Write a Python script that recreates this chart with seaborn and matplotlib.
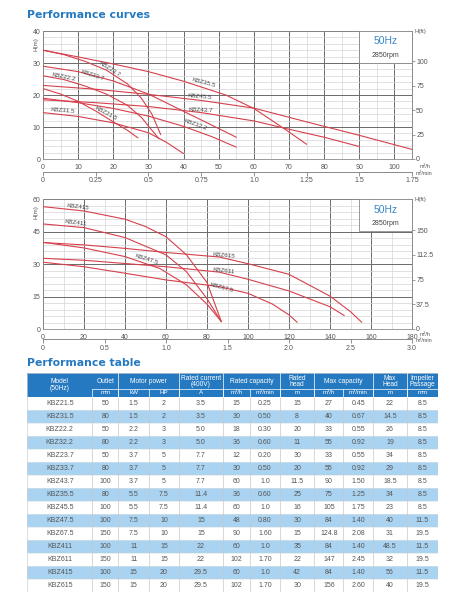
import numpy as np
import pandas as pd
import matplotlib
matplotlib.use("Agg")
import matplotlib.pyplot as plt
from matplotlib.patches import Rectangle
import seaborn as sns

# ---- curve data, top chart (Q in m3/h, H in m) ----
top_curves = {
    "KBZ21.5": ([0, 5, 10, 15, 20, 24, 27], [22, 20.3, 18, 15, 11.6, 9, 6.6]),
    "KBZ31.5": ([0, 10, 20, 30, 35, 40], [14.5, 13.3, 11.3, 8.2, 5.3, 1.7]),
    "KBZ22.2": ([0, 6, 12, 18, 24, 28, 33], [26, 24.8, 22.8, 20.3, 16.8, 13, 6.3]),
    "KBZ32.2": ([0, 10, 20, 30, 40, 48, 55], [19, 17.6, 15.8, 13.4, 10.2, 7, 3.7]),
    "KBZ23.7": ([0, 6, 12, 18, 24, 28, 31, 33.5], [34, 32.6, 30.5, 27.8, 23.5, 19, 14, 7.6]),
    "KBZ33.7": ([0, 10, 20, 30, 40, 48, 55], [29, 27.3, 24.4, 20.3, 14.9, 10.6, 6.8]),
    "KBZ43.7": ([0, 15, 30, 45, 60, 70, 80, 90], [18.5, 17.6, 16.4, 14.5, 11.9, 9.3, 6.8, 3.9]),
    "KBZ35.5": ([0, 10, 20, 30, 40, 52, 60, 69, 75], [34, 31.9, 29.7, 27.3, 24.3, 20, 15.8, 9.2, 4.6]),
    "KBZ45.5": ([0, 15, 30, 45, 60, 75, 90, 105], [23, 21.8, 20.2, 18.3, 15.9, 11.6, 7.4, 3]),
}
top_labels = [
    ("KBZ23.7", 19.1, 28.1, -32), ("KBZ33.7", 14.2, 26.3, -18),
    ("KBZ22.2", 6.0, 25.6, -12), ("KBZ31.5", 5.7, 15.0, -5),
    ("KBZ21.5", 17.9, 14.1, -28), ("KBZ35.5", 45.8, 23.8, -15),
    ("KBZ45.5", 44.7, 19.4, -5), ("KBZ43.7", 45.0, 15.3, -3),
    ("KBZ32.2", 43.5, 10.6, -20),
]

# ---- curve data, bottom chart ----
bottom_curves = {
    "KBZ47.5": ([0, 20, 40, 57, 70, 80, 87], [40.1, 37.5, 33.5, 28, 20.4, 11.5, 3.4]),
    "KBZ411": ([0, 20, 40, 60, 70, 80, 87], [48.6, 46.9, 42.3, 34.3, 26.5, 14, 3.4]),
    "KBZ415": ([0, 20, 40, 50, 60, 70, 80, 87], [56.6, 54.6, 50.8, 47.4, 42.7, 34.3, 21.5, 3.4]),
    "KBZ67.5": ([0, 20, 40, 60, 86, 100, 112, 120, 124], [30.9, 28.8, 25.8, 22.7, 19.6, 16.5, 11.5, 6.5, 3.1]),
    "KBZ611": ([0, 20, 40, 60, 86, 100, 120, 140, 147], [32.7, 31.8, 30.3, 28.8, 26.3, 23, 17.6, 10.3, 6.2]),
    "KBZ615": ([0, 20, 40, 60, 86, 100, 120, 140, 150, 155.5], [40, 38.9, 37.3, 35.4, 33.3, 30.2, 25.3, 15.2, 8, 3.1]),
}
bottom_labels = [
    ("KBZ415", 17.1, 56.5, -7), ("KBZ411", 16.1, 49.0, -7),
    ("KBZ47.5", 50.7, 32.4, -18), ("KBZ615", 88.3, 33.8, -5),
    ("KBZ611", 88.3, 26.9, -7), ("KBZ67.5", 87.3, 19.0, -15),
]

top_min_ticks = [0, 0.25, 0.5, 0.75, 1.0, 1.25, 1.5, 1.75]
top_min_labels = ["0", "0.25", "0.5", "0.75", "1.0", "1.25", "1.5", "1.75"]
bottom_min_ticks = [0, 0.5, 1.0, 1.5, 2.0, 2.5, 3.0]
bottom_min_labels = ["0", "0.5", "1.0", "1.5", "2.0", "2.5", "3.0"]
top_ft_ticks = [0, 25, 50, 75, 100]
bottom_ft_ticks = [0, 37.5, 75, 112.5, 150]

# ---- performance table ----
models = ["KBZ21.5", "KBZ31.5", "KBZ22.2", "KBZ32.2", "KBZ23.7", "KBZ33.7", "KBZ43.7", "KBZ35.5",
          "KBZ45.5", "KBZ47.5", "KBZ67.5", "KBZ411", "KBZ611", "KBZ415", "KBZ615"]
outlet = ["50", "80", "50", "80", "50", "80", "100", "80", "100", "100", "150", "100", "150", "100", "150"]
power_kw = ["1.5", "1.5", "2.2", "2.2", "3.7", "3.7", "3.7", "5.5", "5.5", "7.5", "7.5", "11", "11", "15", "15"]
power_hp = ["2", "2", "3", "3", "5", "5", "5", "7.5", "7.5", "10", "10", "15", "15", "20", "20"]
current = ["3.5", "3.5", "5.0", "5.0", "7.7", "7.7", "7.7", "11.4", "11.4", "15", "15", "22", "22", "29.5", "29.5"]
rated_qh = ["15", "30", "18", "36", "12", "30", "60", "36", "60", "48", "90", "60", "102", "60", "102"]
rated_qm = ["0.25", "0.50", "0.30", "0.60", "0.20", "0.50", "1.0", "0.60", "1.0", "0.80", "1.60", "1.0", "1.70", "1.0", "1.70"]
rated_head = ["15", "8", "20", "11", "30", "20", "11.5", "25", "16", "30", "15", "35", "22", "42", "30"]
max_qh = ["27", "40", "33", "55", "33", "55", "90", "75", "105", "84", "124.8", "84", "147", "84", "156"]
max_qm = ["0.45", "0.67", "0.55", "0.92", "0.55", "0.92", "1.50", "1.25", "1.75", "1.40", "2.08", "1.40", "2.45", "1.40", "2.60"]
max_head = ["22", "14.5", "26", "19", "34", "29", "18.5", "34", "23", "40", "31", "48.5", "32", "56", "40"]
impeller = ["8.5", "8.5", "8.5", "8.5", "8.5", "8.5", "8.5", "8.5", "8.5", "11.5", "19.5", "11.5", "19.5", "11.5", "19.5"]

header_top = [("Model\n(50Hz)", 0, 0), ("Outlet", 1, 1), ("Motor power", 2, 3), ("Rated current\n(400V)", 4, 4),
              ("Rated capacity", 5, 6), ("Rated\nhead", 7, 7), ("Max capacity", 8, 9), ("Max\nHead", 10, 10),
              ("Impeller\nPassage", 11, 11)]
header_units = ["", "mm", "kW", "HP", "A", "m³/h", "m³/min", "m", "m³/h", "m³/min", "m", "mm"]
col_widths = [65, 26, 30.7, 30, 43.7, 27.3, 30, 34.3, 29, 30, 33.4, 31.6]

RED = "#d6404c"
BLUE = "#2479c0"
LIGHT = "#a9d3f1"
TXT = "#555555"

sns.set_style("white")
plt.rcParams["font.family"] = ["Liberation Sans", "DejaVu Sans"]

W, H = 458, 600
fig = plt.figure(figsize=(W / 100, H / 100), dpi=100)


def box(x0, y0, x1, y1):
    return [x0 / W, 1 - y1 / H, (x1 - x0) / W, (y1 - y0) / H]


def draw_chart(ax, curves, labels, xmax, ymax, xstep, ystep, ft_ticks, min_ticks, min_labels,
               sec_loc, unit_y, hm_y):
    rows = []
    for name, (q, h) in curves.items():
        for qi, hi in zip(q, h):
            rows.append({"model": name, "Q": qi, "H": hi})
    df = pd.DataFrame(rows)
    sns.lineplot(data=df, x="Q", y="H", units="model", estimator=None, sort=False,
                 color=RED, lw=0.8, ax=ax, legend=False, zorder=4)
    ax.set_xlim(0, xmax)
    ax.set_ylim(0, ymax)
    ax.set_xlabel("")
    ax.set_ylabel("")
    ax.set_xticks(np.arange(0, xmax + 0.01, xstep))
    ax.set_xticks(np.arange(0, xmax + 0.01, xstep / 2), minor=True)
    ax.set_yticks(np.arange(0, ymax + 0.01, ystep))
    ax.set_yticks(np.arange(0, ymax + 0.01, ystep / 5), minor=True)
    ax.set_xticklabels([f"{v:g}" for v in ax.get_xticks()])
    ax.set_yticklabels([f"{v:g}" for v in ax.get_yticks()])
    ax.grid(which="major", color="#6a6a6a", lw=0.7)
    ax.grid(which="minor", color="#d4d4d4", lw=0.5)
    ax.set_axisbelow(True)
    ax.tick_params(axis="x", which="major", length=2, width=0.5, color="#777", pad=1.5,
                   labelsize=5, labelcolor=TXT)
    ax.tick_params(axis="y", which="major", length=0, pad=2, labelsize=5, labelcolor=TXT)
    ax.tick_params(which="minor", length=0)
    for sp in ax.spines.values():
        sp.set_color("#8a8a8a")
        sp.set_linewidth(0.6)

    sec = ax.secondary_yaxis("right", functions=(lambda m: m * 3.28084, lambda f: f / 3.28084))
    sec.set_yticks(ft_ticks, labels=[f"{v:g}" for v in ft_ticks])
    sec.tick_params(length=2, width=0.5, color="#777", pad=1, labelsize=5, labelcolor=TXT)
    sec.spines["right"].set_color("#8a8a8a")
    sec.spines["right"].set_linewidth(0.6)

    secx = ax.secondary_xaxis(sec_loc, functions=(lambda q: q / 60, lambda m: m * 60))
    secx.set_xticks(min_ticks, labels=min_labels)
    secx.tick_params(length=3, width=0.5, color="#666", pad=1, labelsize=5, labelcolor=TXT)
    secx.spines["bottom"].set_color("#777")
    secx.spines["bottom"].set_linewidth(0.6)

    for name, q, h, rot in labels:
        ax.text(q, h, name, rotation=rot, rotation_mode="anchor", ha="center", va="center",
                fontsize=4.5, color="#444", zorder=5)

    ax.add_patch(Rectangle((0.856, 0.752), 0.144, 0.248, transform=ax.transAxes,
                           fc="white", ec="#8a8a8a", lw=0.6, zorder=3))
    ax.text(0.928, 0.92, "50Hz", transform=ax.transAxes, ha="center", va="center",
            fontsize=7.5, color="#3a86c8", zorder=6)
    ax.text(0.928, 0.81, "2850rpm", transform=ax.transAxes, ha="center", va="center",
            fontsize=5, color="#444", zorder=6)

    ax.text(-0.013, hm_y, "H(m)", transform=ax.transAxes, rotation=90, ha="right", va="center",
            fontsize=4.5, color=TXT)
    ax.text(1.008, 1.0, "H(ft)", transform=ax.transAxes, ha="left", va="center",
            fontsize=4.3, color=TXT)
    ax.text(1.02, unit_y[0], "m³/h", transform=ax.transAxes, ha="left", va="center",
            fontsize=4, color=TXT)
    ax.text(1.01, unit_y[1], "m³/min", transform=ax.transAxes, ha="left", va="center",
            fontsize=4, color=TXT)


# titles
fig.text(27 / W, 1 - 15 / H, "Performance curves", fontsize=7.8, fontweight="bold",
         color=BLUE, family="DejaVu Sans", ha="left", va="center")
fig.text(27 / W, 1 - 363 / H, "Performance table", fontsize=7.8, fontweight="bold",
         color=BLUE, family="DejaVu Sans", ha="left", va="center")

ax1 = fig.add_axes(box(43, 31, 412, 159))
draw_chart(ax1, top_curves, top_labels, 105, 40, 10, 10, top_ft_ticks, top_min_ticks,
           top_min_labels, -0.10, (-0.06, -0.11), 0.9)

ax2 = fig.add_axes(box(43, 199.3, 412, 329))
draw_chart(ax2, bottom_curves, bottom_labels, 180, 60, 20, 15, bottom_ft_ticks, bottom_min_ticks,
           bottom_min_labels, -0.077, (-0.045, -0.085), 0.9)

# table
tab = fig.add_axes(box(27.3, 373, 438.3, 592))
total_w = sum(col_widths)
hdr_h, unit_h, row_h = 16.0, 7.7, 13.0
total_h = hdr_h + unit_h + row_h * len(models)
tab.set_xlim(0, total_w)
tab.set_ylim(total_h, 0)
tab.axis("off")
edges = np.concatenate([[0], np.cumsum(col_widths)])
centers = (edges[:-1] + edges[1:]) / 2

tab.add_patch(Rectangle((0, 0), total_w, hdr_h + unit_h, fc=BLUE, ec="none"))
for label, c0, c1 in header_top:
    x0, x1 = edges[c0], edges[c1 + 1]
    if c0 == 0:
        tab.text((x0 + x1) / 2, (hdr_h + unit_h) / 2, label, ha="center", va="center",
                 fontsize=4.8, color="white", linespacing=0.95)
    else:
        tab.text((x0 + x1) / 2, hdr_h / 2 + 0.5, label, ha="center", va="center",
                 fontsize=4.8, color="white", linespacing=0.95)
        tab.plot([x1, x1], [0, hdr_h + unit_h], color="white", lw=0.5)
tab.plot([edges[1], total_w], [hdr_h, hdr_h], color="white", lw=0.5)
for i, u in enumerate(header_units):
    if u:
        tab.text(centers[i], hdr_h + unit_h / 2, u, ha="center", va="center",
                 fontsize=4.5, color="white")
        tab.plot([edges[i], edges[i]], [hdr_h, hdr_h + unit_h], color="white", lw=0.5)

columns = [models, outlet, power_kw, power_hp, current, rated_qh, rated_qm, rated_head,
           max_qh, max_qm, max_head, impeller]
y0 = hdr_h + unit_h
for r in range(len(models)):
    top = y0 + r * row_h
    fc = LIGHT if r % 2 == 1 else "white"
    tab.add_patch(Rectangle((0, top), total_w, row_h, fc=fc, ec="none"))
    tab.plot([0, total_w], [top + row_h, top + row_h], color="#e2e2e2", lw=0.4)
    for c, col in enumerate(columns):
        tab.text(centers[c], top + row_h / 2 + 0.3, col[r], ha="center", va="center",
                 fontsize=5, color=TXT)
for e in edges[1:-1]:
    tab.plot([e, e], [y0, total_h], color="#c8c8c8", lw=0.5)
tab.add_patch(Rectangle((0, 0), total_w, total_h, fc="none", ec="#cfcfcf", lw=0.5))

fig.savefig("out.png", dpi=100)
